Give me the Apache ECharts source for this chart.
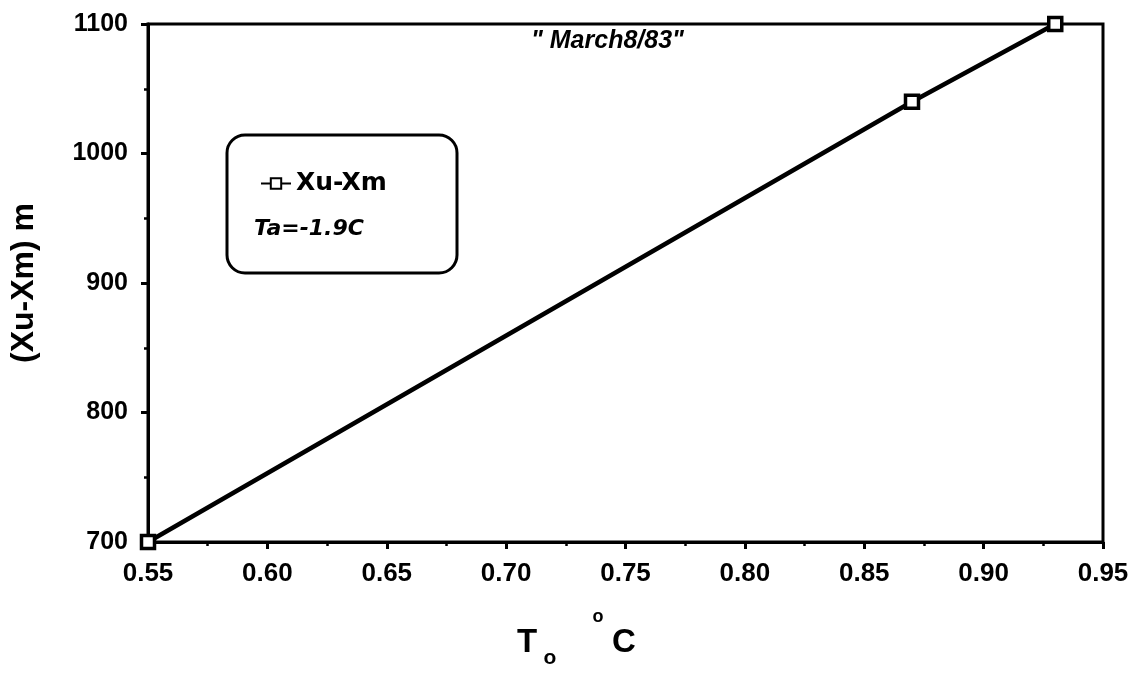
<!DOCTYPE html>
<html>
<head>
<meta charset="utf-8">
<script src="https://cdn.jsdelivr.net/npm/echarts@6/dist/echarts.min.js"></script>
<style>
  html, body { margin: 0; padding: 0; background: #fff; }
  #chart { width: 1135px; height: 676px; }
</style>
</head>
<body>
<div id="chart"></div>
<script>
// Surface temperature vs. distance (Xu - Xm), March 8/83
const seriesName = 'Xu-Xm';
const tempValues = [0.55, 0.87, 0.93];
const distValues = [700, 1040, 1100];
const xTicks = { min: 0.55, max: 0.95, interval: 0.05 };
const yTicks = { min: 700, max: 1100, interval: 100 };
const titleText = '" March8/83"';
const noteText = 'Ta=-1.9C';

const FONT = '"Liberation Sans", Arial, Helvetica, sans-serif';
const WIDE = '"DejaVu Sans", "Liberation Sans", sans-serif';
const chart = echarts.init(document.getElementById('chart'), null, { renderer: 'canvas' });

const points = tempValues.map((t, i) => [t, distValues[i]]);

chart.setOption({
  backgroundColor: '#ffffff',
  animation: false,
  title: {
    text: titleText,
    left: 526,
    top: 24,
    textStyle: { fontFamily: FONT, fontSize: 25, fontWeight: 'bold', fontStyle: 'italic', color: '#000' }
  },
  grid: {
    left: 148, right: 32, top: 24, bottom: 134,
    show: true, borderColor: '#000', borderWidth: 3, backgroundColor: 'transparent'
  },
  legend: {
    data: [seriesName],
    left: 255, top: 166,
    itemWidth: 30, itemHeight: 13, itemGap: 10,
    textStyle: { fontFamily: WIDE, fontSize: 25, fontWeight: 'bold', color: '#000' }
  },
  xAxis: {
    type: 'value',
    min: xTicks.min, max: xTicks.max, interval: xTicks.interval,
    axisLine: { show: true, onZero: false, lineStyle: { color: '#000', width: 3 } },
    axisTick: { show: true, inside: false, length: 7, lineStyle: { color: '#000', width: 3 } },
    minorTick: { show: true, splitNumber: 2, length: 4, lineStyle: { color: '#000', width: 2.5 } },
    splitLine: { show: false },
    axisLabel: {
      margin: 19, color: '#000', fontFamily: FONT, fontSize: 26, fontWeight: 'bold',
      formatter: v => v.toFixed(2)
    }
  },
  yAxis: {
    type: 'value',
    min: yTicks.min, max: yTicks.max, interval: yTicks.interval,
    name: '(Xu-Xm) m',
    nameLocation: 'middle',
    nameRotate: 90,
    nameGap: 108,
    nameTextStyle: { fontFamily: FONT, fontSize: 32, fontWeight: 'bold', color: '#000' },
    axisLine: { show: true, onZero: false, lineStyle: { color: '#000', width: 3 } },
    axisTick: { show: true, inside: false, length: 7, lineStyle: { color: '#000', width: 3 } },
    minorTick: { show: true, splitNumber: 2, length: 4, lineStyle: { color: '#000', width: 2.5 } },
    splitLine: { show: false },
    axisLabel: {
      margin: 20, color: '#000', fontFamily: FONT, fontSize: 25, fontWeight: 'bold',
      formatter: v => String(v)
    }
  },
  graphic: [
    {
      type: 'rect',
      shape: { x: 227, y: 135, width: 230, height: 138, r: 18 },
      style: { fill: 'transparent', stroke: '#000', lineWidth: 3 },
      z: 10
    },
    {
      type: 'text',
      x: 254, y: 229,
      style: {
        text: noteText, fontFamily: WIDE, fontSize: 22, fontWeight: 'bold', fontStyle: 'italic',
        fill: '#000', verticalAlign: 'middle'
      },
      z: 10
    },
    {
      // axis title: T with subscript o, then degree C
      type: 'group',
      z: 10,
      children: [
        { type: 'text', x: 527, y: 643, style: { text: 'T', fontFamily: FONT, fontSize: 33, fontWeight: 'bold', fill: '#000', align: 'center', verticalAlign: 'middle' } },
        { type: 'text', x: 550, y: 658, style: { text: 'o', fontFamily: FONT, fontSize: 21, fontWeight: 'bold', fill: '#000', align: 'center', verticalAlign: 'middle' } },
        { type: 'text', x: 598, y: 617, style: { text: 'o', fontFamily: FONT, fontSize: 18, fontWeight: 'bold', fill: '#000', align: 'center', verticalAlign: 'middle' } },
        { type: 'text', x: 624, y: 643, style: { text: 'C', fontFamily: FONT, fontSize: 33, fontWeight: 'bold', fill: '#000', align: 'center', verticalAlign: 'middle' } }
      ]
    }
  ],
  series: [
    {
      name: seriesName,
      type: 'line',
      data: points,
      symbol: 'rect',
      symbolSize: 13,
      showAllSymbol: true,
      lineStyle: { color: '#000', width: 4.5 },
      itemStyle: { color: '#fff', borderColor: '#000', borderWidth: 3.5 },
      clip: false,
      z: 5
    }
  ]
});
</script>
</body>
</html>
